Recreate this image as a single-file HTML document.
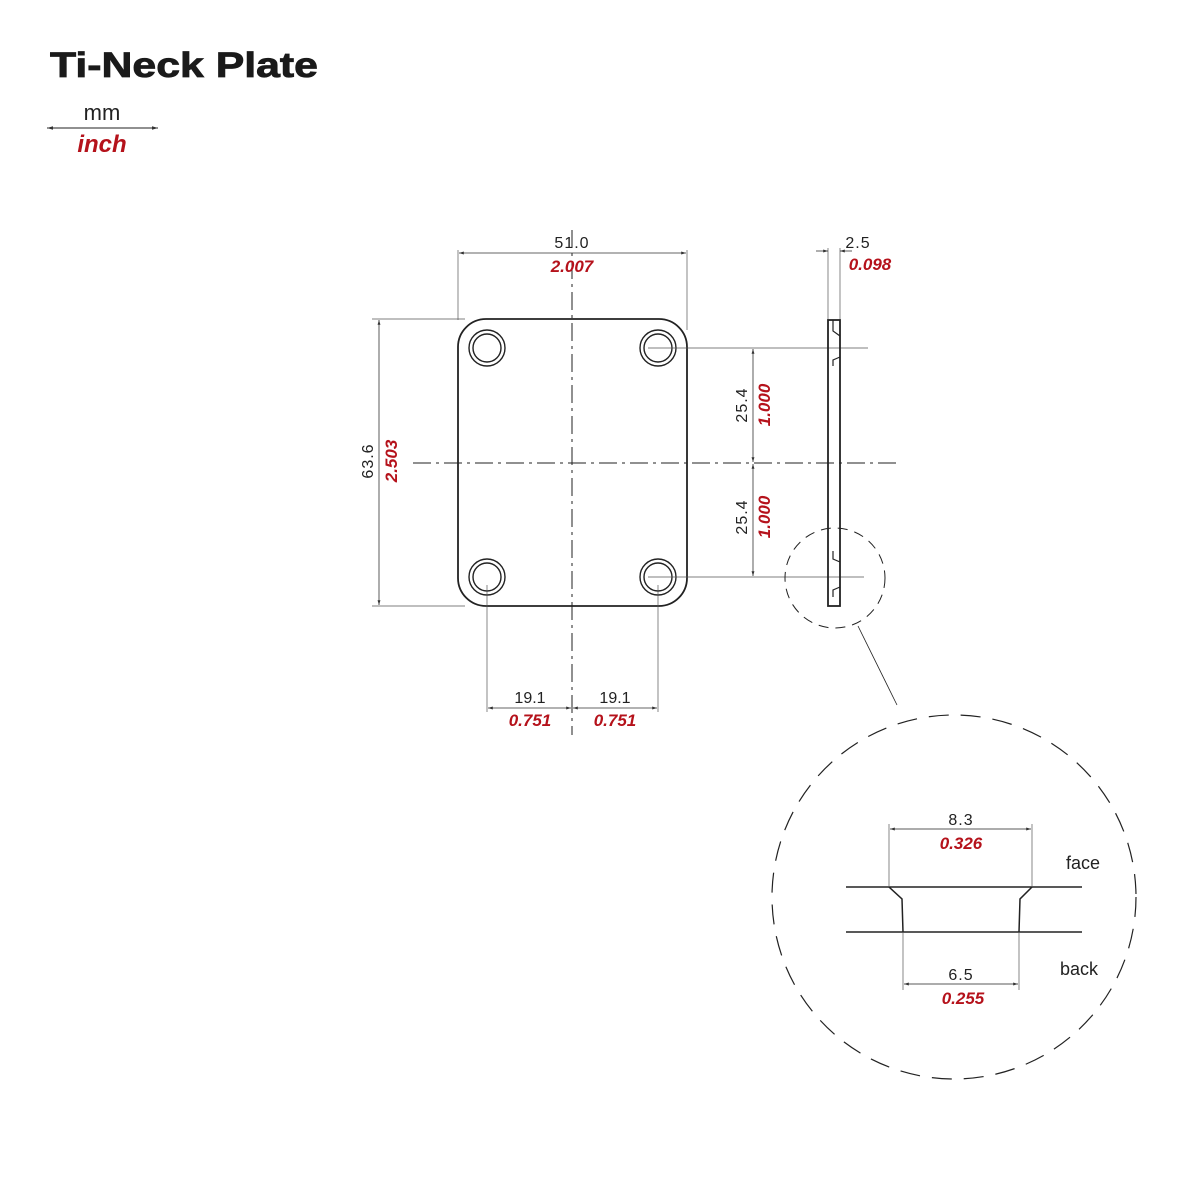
<!DOCTYPE html>
<html><head><meta charset="utf-8"><style>
html,body{margin:0;padding:0;background:#fff;}
svg{display:block;}
.t{font-family:"Liberation Sans",sans-serif;}
.k{fill:#222;font-size:16px;}
.r{fill:#b5121b;font-size:17px;font-weight:bold;font-style:italic;}
</style></head><body>
<svg width="1200" height="1200" viewBox="0 0 1200 1200" xmlns="http://www.w3.org/2000/svg">
<defs>
<marker id="a" viewBox="0 0 10 10" refX="10" refY="5" markerWidth="6" markerHeight="6" orient="auto-start-reverse"><path d="M0,2 L10,5 L0,8z" fill="#333"/></marker>
</defs>
<text x="50" y="77" font-family="Liberation Sans, sans-serif" font-size="35" font-weight="bold" fill="#1a1a1a" textLength="268" lengthAdjust="spacingAndGlyphs" stroke="#1a1a1a" stroke-width="0.8">Ti-Neck Plate</text>
<text x="102" y="120" font-family="Liberation Sans, sans-serif" font-size="22" fill="#222" text-anchor="middle">mm</text>
<line x1="47" y1="128" x2="158" y2="128" stroke="#222" stroke-width="1" marker-start="url(#a)" marker-end="url(#a)"/>
<text x="102" y="152" font-family="Liberation Sans, sans-serif" style="font-size:24px;font-weight:bold;font-style:italic" fill="#b5121b" text-anchor="middle">inch</text>

<g stroke="#222" fill="none">
<rect x="458" y="319" width="229" height="287" rx="28" stroke-width="1.8"/>
<g stroke-width="1.4">
<circle cx="487" cy="348" r="18"/><circle cx="487" cy="348" r="14"/>
<circle cx="658" cy="348" r="18"/><circle cx="658" cy="348" r="14"/>
<circle cx="487" cy="577" r="18"/><circle cx="487" cy="577" r="14"/>
<circle cx="658" cy="577" r="18"/><circle cx="658" cy="577" r="14"/>
</g>
<line x1="572" y1="230" x2="572" y2="735" stroke-width="1" stroke-dasharray="18,5,3,5"/>
<line x1="413" y1="463" x2="900" y2="463" stroke-width="1" stroke-dasharray="18,5,3,5"/>
<g stroke-width="0.7" stroke="#555">
<line x1="458" y1="250" x2="458" y2="320"/><line x1="687" y1="250" x2="687" y2="330"/>
<line x1="372" y1="319" x2="465" y2="319"/><line x1="372" y1="606" x2="465" y2="606"/>
<line x1="648" y1="348" x2="868" y2="348"/><line x1="648" y1="577" x2="864" y2="577"/>
<line x1="487" y1="585" x2="487" y2="712"/><line x1="658" y1="585" x2="658" y2="712"/>
<line x1="828" y1="248" x2="828" y2="320"/><line x1="840" y1="248" x2="840" y2="320"/>
</g>
<g stroke-width="0.8" stroke="#333">
<line x1="459" y1="253" x2="686" y2="253" marker-start="url(#a)" marker-end="url(#a)"/>
<line x1="379" y1="320" x2="379" y2="605" marker-start="url(#a)" marker-end="url(#a)"/>
<line x1="753" y1="349" x2="753" y2="462" marker-start="url(#a)" marker-end="url(#a)"/>
<line x1="753" y1="464" x2="753" y2="576" marker-start="url(#a)" marker-end="url(#a)"/>
<line x1="488" y1="708" x2="571" y2="708" marker-start="url(#a)" marker-end="url(#a)"/>
<line x1="573" y1="708" x2="657" y2="708" marker-start="url(#a)" marker-end="url(#a)"/>
<line x1="816" y1="251" x2="828" y2="251" marker-end="url(#a)"/>
<line x1="852" y1="251" x2="840" y2="251" marker-end="url(#a)"/>
</g>
<rect x="828" y="320" width="12" height="286" stroke-width="1.8"/>
<path d="M833,320 L833,331 L840,336 M833,366 L833,360 L840,357 M833,551 L833,559 L840,562 M833,597 L833,590 L840,587" stroke-width="1.2"/>
<circle cx="835" cy="578" r="50" stroke-width="1" stroke-dasharray="10,7"/>
<line x1="858" y1="626" x2="897" y2="705" stroke-width="0.8"/>
<circle cx="954" cy="897" r="182" stroke-width="1.2" stroke-dasharray="20,12"/>
<line x1="846" y1="887" x2="1082" y2="887" stroke-width="1.5"/>
<line x1="846" y1="932" x2="1082" y2="932" stroke-width="1.5"/>
<path d="M889,887 L902,899 L903,932 M1032,887 L1020,899 L1019,932" stroke-width="1.5"/>
<g stroke-width="0.7" stroke="#555">
<line x1="889" y1="824" x2="889" y2="887"/><line x1="1032" y1="824" x2="1032" y2="887"/>
<line x1="903" y1="932" x2="903" y2="990"/><line x1="1019" y1="932" x2="1019" y2="990"/>
</g>
<line x1="890" y1="829" x2="1031" y2="829" stroke-width="0.8" marker-start="url(#a)" marker-end="url(#a)"/>
<line x1="904" y1="984" x2="1018" y2="984" stroke-width="0.8" marker-start="url(#a)" marker-end="url(#a)"/>
</g>

<g class="t">
<text x="572" y="248" class="k" text-anchor="middle" letter-spacing="1">51.0</text>
<text x="572" y="272" class="r" text-anchor="middle">2.007</text>
<text x="858" y="248" class="k" text-anchor="middle" letter-spacing="1">2.5</text>
<text x="870" y="270" class="r" text-anchor="middle">0.098</text>
<text transform="translate(373,461) rotate(-90)" class="k" text-anchor="middle" letter-spacing="1">63.6</text>
<text transform="translate(397,461) rotate(-90)" class="r" text-anchor="middle">2.503</text>
<text transform="translate(747,405) rotate(-90)" class="k" text-anchor="middle" letter-spacing="1">25.4</text>
<text transform="translate(770,405) rotate(-90)" class="r" text-anchor="middle">1.000</text>
<text transform="translate(747,517) rotate(-90)" class="k" text-anchor="middle" letter-spacing="1">25.4</text>
<text transform="translate(770,517) rotate(-90)" class="r" text-anchor="middle">1.000</text>
<text x="530" y="703" class="k" text-anchor="middle">19.1</text>
<text x="530" y="726" class="r" text-anchor="middle">0.751</text>
<text x="615" y="703" class="k" text-anchor="middle">19.1</text>
<text x="615" y="726" class="r" text-anchor="middle">0.751</text>
<text x="961" y="825" class="k" text-anchor="middle" letter-spacing="1">8.3</text>
<text x="961" y="849" class="r" text-anchor="middle">0.326</text>
<text x="1083" y="869" class="k" font-size="18" text-anchor="middle" style="font-size:18px">face</text>
<text x="1079" y="975" class="k" text-anchor="middle" style="font-size:18px">back</text>
<text x="961" y="980" class="k" text-anchor="middle" letter-spacing="1">6.5</text>
<text x="963" y="1004" class="r" text-anchor="middle">0.255</text>
</g>
</svg>
</body></html>
